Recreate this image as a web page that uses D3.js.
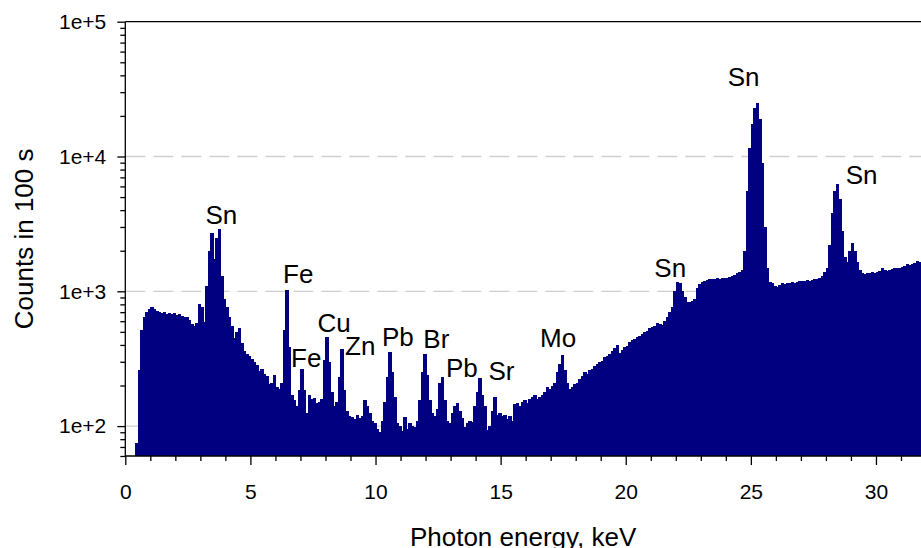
<!DOCTYPE html>
<html>
<head>
<meta charset="utf-8">
<script src="https://cdn.jsdelivr.net/npm/d3@7"></script>
<style>
  html, body { margin: 0; padding: 0; background: #fff; }
  svg { display: block; font-family: "Liberation Sans", Arial, sans-serif; }
</style>
</head>
<body>
<svg id="chart" width="921" height="548"></svg>
<script>
// ---- DATA ----
// Spectrum channels: first channel starts at 0.4 keV, each channel 0.1 keV wide
const channelStartKeV = 0.4;
const channelWidthKeV = 0.1;
const counts = [
  75, 260, 520, 640, 700, 740,
  765, 745, 720, 705, 690, 705, 675, 690, 680, 695,
  665, 680, 655, 650, 640, 615, 575, 555, 580, 800,
  760, 590, 1100, 2000, 2700, 1750, 2500, 2900, 1300, 880,
  770, 650, 550, 450, 500, 530, 410, 360, 340, 330,
  315, 300, 285, 255, 265, 245, 235, 205, 210, 240,
  195, 190, 210, 520, 1030, 385, 170, 157, 140, 185,
  265, 185, 125, 170, 160, 162, 148, 150, 160, 310,
  460, 300, 180, 140, 150, 230, 375, 185, 130, 118,
  117, 112, 120, 115, 118, 157, 140, 125, 110, 105,
  95, 90, 110, 150, 230, 356, 250, 165, 105, 100,
  92, 117, 95, 105, 100, 98, 110, 157, 250, 342,
  240, 157, 125, 118, 135, 210, 230, 155, 110, 105,
  125, 140, 148, 130, 115, 98, 105, 110, 108, 140,
  180, 228, 170, 140, 94, 100, 130, 165, 120, 125,
  118, 120, 112, 118, 110, 145, 148, 140, 150, 155,
  148, 160, 165, 170, 160, 165, 170, 180, 195, 190,
  200, 210, 250, 290, 335, 260, 210, 190, 195, 205,
  210, 225, 235, 250, 245, 260, 265, 280, 290, 300,
  305, 325, 330, 345, 360, 380, 400, 350, 370, 385,
  395, 420, 435, 440, 460, 465, 480, 500, 510, 530,
  540, 550, 580, 575, 565, 600, 640, 700, 770, 1010,
  1180, 1150, 1000, 900, 840, 830, 850, 880, 1050, 1130,
  1180, 1200, 1220, 1230, 1240, 1235, 1250, 1240, 1255, 1260,
  1250, 1280, 1300, 1330, 1360, 1400, 1440, 2000, 5500, 11500,
  17500, 23000, 24900, 19000, 9000, 3000, 1500, 1180, 1150, 1100,
  1080, 1120, 1150, 1140, 1160, 1150, 1170, 1150, 1180, 1190,
  1200, 1190, 1210, 1200, 1220, 1230, 1240, 1260, 1290, 1380,
  1500, 2200, 3800, 5500, 6200, 4800, 2800, 1800, 1650, 2000,
  2300, 2000, 1650, 1450, 1360, 1350, 1370, 1360, 1380, 1370,
  1400, 1420, 1490, 1450, 1420, 1440, 1460, 1500, 1480, 1500,
  1510, 1540, 1590, 1570, 1600, 1620, 1690, 1640, 1650
];

// Peak annotations (element, energy keV, count level of the label baseline)
const peakNames  = ["Sn", "Fe", "Fe", "Cu", "Zn", "Pb", "Br", "Pb", "Sr", "Mo", "Sn", "Sn", "Sn"];
const peakKeV    = [3.84, 6.91, 7.23, 8.35, 9.39, 10.89, 12.43, 13.45, 15.03, 17.30, 21.78, 24.71, 29.43];
const peakLevel  = [3157, 1152, 274, 499, 337, 393, 380, 231, 220, 386, 1277, 33335, 6252];

const xDomain = [0, 31.8];
const yDomain = [60, 1e5];
const xMajorTicks = [0, 5, 10, 15, 20, 25, 30];
const xTickLabels = ["0", "5", "10", "15", "20", "25", "30"];
const yMajorTicks = [1e2, 1e3, 1e4, 1e5];
const yTickLabels = ["1e+2", "1e+3", "1e+4", "1e+5"];
const xTitle = "Photon energy, keV";
const yTitle = "Counts in 100 s";

// ---- LAYOUT ----
const mLeft = 125.3, mRight = 921, mTop = 21.7, mBottom = 456;
const svg = d3.select("#chart");

const x = d3.scaleLinear().domain(xDomain).range([mLeft, mRight]);
const y = d3.scaleLog().domain(yDomain).range([mBottom, mTop]);

// Grid lines (behind bars)
svg.append("g").selectAll("line").data([1e2, 1e3, 1e4]).join("line")
  .attr("x1", mLeft).attr("x2", mRight)
  .attr("y1", d => y(d)).attr("y2", d => y(d))
  .attr("stroke", "#cfcfcf").attr("stroke-width", 1.3)
  .attr("stroke-dasharray", "20,8");

// Bars
svg.append("g").attr("shape-rendering", "crispEdges")
  .selectAll("rect").data(counts).join("rect")
  .attr("x", (d, i) => Math.round(x(channelStartKeV + i * channelWidthKeV)))
  .attr("width", (d, i) => Math.round(x(channelStartKeV + (i + 1) * channelWidthKeV)) - Math.round(x(channelStartKeV + i * channelWidthKeV)) + 1)
  .attr("y", d => y(d))
  .attr("height", d => mBottom - y(d))
  .attr("fill", "#000080");

// Frame: top line
svg.append("line").attr("x1", mLeft).attr("x2", mRight).attr("y1", mTop).attr("y2", mTop)
  .attr("stroke", "#000").attr("stroke-width", 1.3);

// X axis
const xMinor = d3.range(0, 32, 1).filter(v => v % 5 !== 0);
const xMinorG = svg.append("g").attr("transform", `translate(0,${mBottom})`)
  .call(d3.axisBottom(x).tickValues(xMinor).tickSize(5).tickFormat(""));
xMinorG.select(".domain").remove();
const xAxisMajor = svg.append("g").attr("transform", `translate(0,${mBottom})`)
  .call(d3.axisBottom(x).tickValues(xMajorTicks).tickSize(9).tickPadding(19)
    .tickFormat((d, i) => xTickLabels[i]));
xAxisMajor.select(".domain").remove();
svg.selectAll("g.tick line").attr("stroke", "#000").attr("stroke-width", 1.3);
xAxisMajor.selectAll("text").attr("font-size", 21).attr("fill", "#000")
  .attr("font-family", "Liberation Sans, Arial, sans-serif").attr("dy", "0.71em");
svg.append("line").attr("x1", mLeft).attr("x2", mRight).attr("y1", mBottom).attr("y2", mBottom)
  .attr("stroke", "#000").attr("stroke-width", 1.3);

// Y axis
const yMinor = [];
[10, 100, 1000, 10000].forEach(dec => { for (let k = 2; k <= 9; k++) { const v = k * dec; if (v >= 60 && v < 1e5) yMinor.push(v); } });
const yMinorG = svg.append("g").attr("transform", `translate(${mLeft},0)`)
  .call(d3.axisLeft(y).tickValues(yMinor).tickSize(5).tickFormat(""));
yMinorG.select(".domain").remove();
yMinorG.selectAll("line").attr("stroke", "#000").attr("stroke-width", 1.3);
const yMajorG = svg.append("g").attr("transform", `translate(${mLeft},0)`)
  .call(d3.axisLeft(y).tickValues(yMajorTicks).tickSize(8).tickPadding(11)
    .tickFormat((d, i) => yTickLabels[i]));
yMajorG.select(".domain").remove();
yMajorG.selectAll("line").attr("stroke", "#000").attr("stroke-width", 1.3);
yMajorG.selectAll("text").attr("font-size", 21).attr("fill", "#000")
  .attr("font-family", "Liberation Sans, Arial, sans-serif");
svg.append("line").attr("x1", mLeft).attr("x2", mLeft).attr("y1", mTop).attr("y2", mBottom)
  .attr("stroke", "#000").attr("stroke-width", 1.3);

// Axis titles
svg.append("text").attr("x", (mLeft + mRight) / 2).attr("y", 546)
  .attr("text-anchor", "middle").attr("font-size", 26).attr("fill", "#000").text(xTitle);
svg.append("text").attr("transform", `translate(33,${(mTop + mBottom) / 2}) rotate(-90)`)
  .attr("text-anchor", "middle").attr("font-size", 26).attr("fill", "#000").text(yTitle);

// Peak labels
svg.append("g").selectAll("text").data(peakNames).join("text")
  .attr("x", (d, i) => x(peakKeV[i]))
  .attr("y", (d, i) => y(peakLevel[i]))
  .attr("text-anchor", "middle").attr("font-size", 26).attr("fill", "#000")
  .text(d => d);
</script>
</body>
</html>
